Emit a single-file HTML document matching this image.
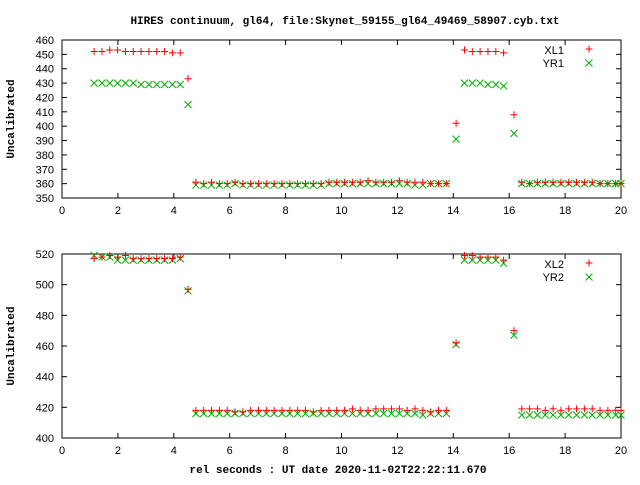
<!DOCTYPE html>
<html><head><meta charset="utf-8"><style>
body{margin:0;background:#fff;width:640px;height:480px;overflow:hidden}
text{font-family:"Liberation Sans",sans-serif;font-size:11px;fill:#000}
</style></head><body>
<svg id="chart" width="640" height="480" xmlns="http://www.w3.org/2000/svg">
<text x="345" y="24" text-anchor="middle" style="font-family:'Liberation Mono',monospace;font-size:11px;font-weight:bold">HIRES continuum, gl64, file:Skynet_59155_gl64_49469_58907.cyb.txt</text>
<text x="338" y="473" text-anchor="middle" style="font-family:'Liberation Mono',monospace;font-weight:bold">rel seconds : UT date 2020-11-02T22:22:11.670</text>
<text transform="translate(14,119) rotate(-90)" text-anchor="middle" style="font-family:'Liberation Mono',monospace;font-weight:bold">Uncalibrated</text>
<text transform="translate(14,346) rotate(-90)" text-anchor="middle" style="font-family:'Liberation Mono',monospace;font-weight:bold">Uncalibrated</text>
<g id="g"></g>
</svg>
<script>
const xTicks=[0,2,4,6,8,10,12,14,16,18,20];
const topYTicks=[350,360,370,380,390,400,410,420,430,440,450,460];
const botYTicks=[400,420,440,460,480,500,520];
const times=[1.15,1.43,1.71,1.99,2.27,2.55,2.83,3.11,3.39,3.67,3.95,4.23,4.51,4.79,5.07,5.35,5.63,5.91,6.19,6.47,6.75,7.03,7.31,7.59,7.87,8.15,8.43,8.71,8.99,9.27,9.55,9.83,10.11,10.39,10.67,10.95,11.23,11.51,11.79,12.07,12.35,12.63,12.91,13.19,13.47,13.75,14.1,14.4,14.68,14.96,15.24,15.52,15.8,16.17,16.45,16.73,17.01,17.29,17.57,17.85,18.13,18.41,18.69,18.97,19.25,19.53,19.81,20.0];
const xl1=[452,452,453,453,452,452,452,452,452,452,451,451,433,361,360,361,360,360,361,360,360,360,360,360,360,360,360,360,360,360,361,361,361,361,361,362,361,361,361,362,361,361,361,360,360,360,402,453,452,452,452,452,451,408,361,360,361,361,361,361,361,361,361,361,360,360,360,360];
const yr1=[430,430,430,430,430,430,429,429,429,429,429,429,415,359,359,359,359,359,360,359,359,359,359,359,359,359,359,359,359,359,360,360,360,360,360,360,360,360,360,360,360,359,359,360,360,360,391,430,430,430,429,429,428,395,360,360,360,360,360,360,360,360,360,360,360,360,360,360];
const xl2=[517,518,519,518,519,517,517,517,517,517,517,518,497,418,418,418,418,418,417,417,418,418,418,418,418,418,418,418,417,418,418,418,418,419,418,418,419,419,419,419,418,419,418,417,418,418,462,519,519,518,518,518,516,470,419,419,419,418,419,418,419,419,419,419,418,418,418,418];
const yr2=[519,518,518,516,516,516,516,516,516,516,516,517,496,416,416,416,416,416,416,416,416,416,416,416,416,416,416,416,416,416,416,416,416,416,416,416,416,416,416,416,416,416,415,416,416,416,461,516,516,516,516,516,514,467,415,415,415,415,415,415,415,415,415,415,415,415,415,415];
const NS="http://www.w3.org/2000/svg",G=document.getElementById('g');
function el(t,a){const e=document.createElementNS(NS,t);for(const k in a)e.setAttribute(k,a[k]);G.appendChild(e);return e;}
const X0=62,X1=621;
function xs(v){return X0+(v-0)/(20-0)*(X1-X0);}
function panel(top,bot,ymin,ymax,yticks,s1,s2,n1,n2,pre){
  const ys=v=>bot-(v-ymin)/(ymax-ymin)*(bot-top);
  const r=el('rect',{x:X0,y:top,width:X1-X0,height:bot-top,fill:'none',stroke:'#000','stroke-width':1});
  
  
  xTicks.forEach(v=>{const x=xs(v);
    const t1=el('line',{x1:x,x2:x,y1:bot,y2:bot-5,stroke:'#000'});
    
    
    const t2=el('line',{x1:x,x2:x,y1:top,y2:top+5,stroke:'#000'});
    
    
    const l=el('text',{x:x,y:bot+16,'text-anchor':'middle'});l.textContent=v;
    
    });
  yticks.forEach(v=>{const y=ys(v);
    const t1=el('line',{x1:X0,x2:X0+5,y1:y,y2:y,stroke:'#000'});
    
    
    const t2=el('line',{x1:X1,x2:X1-5,y1:y,y2:y,stroke:'#000'});
    
    
    const l=el('text',{x:X0-8,y:y+4,'text-anchor':'end'});l.textContent=v;
    
    });
  function plus(x,y,c){const p=el('path',{d:`M${x-3.5},${y}h7M${x},${y-3.5}v7`,stroke:c,'stroke-width':1,fill:'none'});return p;}
  function cross(x,y,c){const p=el('path',{d:`M${x-3.5},${y-3.5}l7,7M${x-3.5},${y+3.5}l7,-7`,stroke:c,'stroke-width':1,fill:'none'});return p;}
  s2.forEach((v,i)=>{const p=cross(xs(times[i]),ys(v),'#00b000');
    
    });
  s1.forEach((v,i)=>{const p=plus(xs(times[i]),ys(v),'#ff0000');
    
    });
  const a=el('text',{x:564,y:top+14,'text-anchor':'end'});a.textContent=n1.toUpperCase();
  
  
  const m1=plus(589,top+9,'#ff0000');
  
  
  const b=el('text',{x:564,y:top+27,'text-anchor':'end'});b.textContent=n2.toUpperCase();
  
  
  const m2=cross(589,top+23,'#00b000');
  
  
}
panel(40,198,350,460,topYTicks,xl1,yr1,'xl1','yr1','top');
panel(254,438,400,520,botYTicks,xl2,yr2,'xl2','yr2','bottom');
</script>
</body></html>
